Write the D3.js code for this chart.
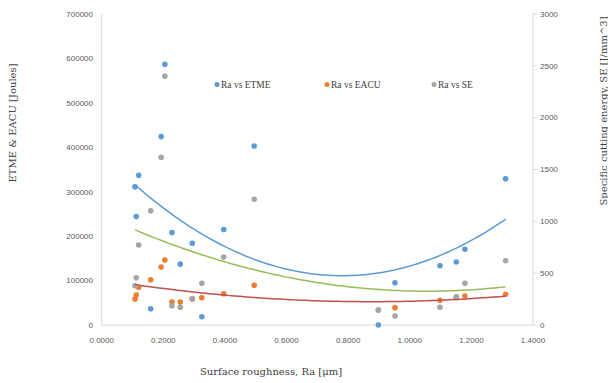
<!DOCTYPE html>
<html>
<head>
<meta charset="utf-8">
<script src="https://cdn.jsdelivr.net/npm/d3@7"></script>
<style>
  html, body { margin: 0; padding: 0; background: #fff; }
  svg { display: block; }
  .tick-label { font-family: "Liberation Sans", Arial, sans-serif; font-size: 8px; fill: #595959; }
  .title { font-family: "DejaVu Serif", "Liberation Serif", serif; font-size: 10px; fill: #404040; }
  .legend { font-family: "Liberation Serif", serif; font-size: 9.5px; fill: #404040; }
</style>
</head>
<body>
<svg id="chart" width="608" height="383"></svg>
<script>
// Surface roughness Ra [µm] for each test
const ra = [0.108, 0.112, 0.120, 0.159, 0.193, 0.205, 0.228, 0.255, 0.294,
            0.325, 0.396, 0.495, 0.898, 0.952, 1.098, 1.151, 1.179, 1.311];
// Total machining energy [J]
const etme = [311000, 244000, 337000, 36700, 424000, 587000, 208000, 137000, 184000,
              18700, 215000, 403000, 0, 95200, 133500, 141800, 170400, 329300];
// Energy for actual cutting [J]
const eacu = [58500, 67500, 84900, 102000, 130600, 146300, 51800, 51800, 58500,
              61500, 70500, 89300, 33800, 39000, 55600, 62000, 65300, 69100];
// Specific cutting energy [J/mm^3]
const se = [379, 456, 772, 1102, 1618, 2399, 186, 171, 254,
            402, 656, 1212, 145, 87, 171, 273, 402, 620];

const xTicks = [0, 0.2, 0.4, 0.6, 0.8, 1.0, 1.2, 1.4];
const leftTicks = [0, 100000, 200000, 300000, 400000, 500000, 600000, 700000];
const rightTicks = [0, 500, 1000, 1500, 2000, 2500, 3000];
const seriesNames = ["Ra vs ETME", "Ra vs EACU", "Ra vs SE"];

const colors = { etme: "#5b9bd5", eacu: "#ed7d31", se: "#a5a5a5" };
const trendColors = { etme: "#5b9bd5", eacu: "#c0504d", se: "#9bbb59" };

const svg = d3.select("#chart");
const plot = { left: 101.7, right: 533, top: 14, bottom: 325 };

const x = d3.scaleLinear().domain([0, 1.4]).range([plot.left, plot.right]);
const yL = d3.scaleLinear().domain([0, 700000]).range([plot.bottom, plot.top]);
const yR = d3.scaleLinear().domain([0, 3000]).range([plot.bottom, plot.top]);

// Axis lines
const axisColor = "#d9d9d9";
svg.append("line").attr("x1", plot.left).attr("x2", plot.left)
  .attr("y1", plot.top).attr("y2", plot.bottom).attr("stroke", axisColor);
svg.append("line").attr("x1", plot.right).attr("x2", plot.right)
  .attr("y1", plot.top).attr("y2", plot.bottom).attr("stroke", axisColor);
svg.append("line").attr("x1", plot.left).attr("x2", plot.right)
  .attr("y1", plot.bottom).attr("y2", plot.bottom).attr("stroke", axisColor);

// Left axis labels
svg.append("g").selectAll("text").data(leftTicks).join("text")
  .attr("class", "tick-label").attr("x", 93).attr("y", d => yL(d)).attr("dy", "0.35em")
  .attr("text-anchor", "end").text(d => d3.format("d")(d));

// Right axis ticks and labels
svg.append("g").selectAll("line").data(rightTicks).join("line")
  .attr("x1", plot.right).attr("x2", plot.right + 4)
  .attr("y1", d => yR(d)).attr("y2", d => yR(d)).attr("stroke", axisColor);
svg.append("g").selectAll("text").data(rightTicks).join("text")
  .attr("class", "tick-label").attr("x", 540).attr("y", d => yR(d)).attr("dy", "0.35em")
  .attr("text-anchor", "start").text(d => d);

// Bottom axis labels
svg.append("g").selectAll("text").data(xTicks).join("text")
  .attr("class", "tick-label").attr("x", d => x(d)).attr("y", 340).attr("dy", "0.35em")
  .attr("text-anchor", "middle").text(d => d3.format(".4f")(d));

// Axis titles
svg.append("text").attr("class", "title")
  .attr("transform", "translate(16,123) rotate(-90)")
  .attr("text-anchor", "middle").text("ETME & EACU [Joules]");
svg.append("text").attr("class", "title")
  .attr("transform", "translate(607,111) rotate(-90)")
  .attr("text-anchor", "middle").text("Specific cutting energy, SE [J/mm^3]");
svg.append("text").attr("class", "title")
  .attr("x", 271).attr("y", 375).attr("text-anchor", "middle")
  .text("Surface roughness, Ra [μm]");

// Least-squares second-order polynomial fit
function quadFit(xs, ys) {
  const n = xs.length;
  let s = [0, 0, 0, 0, 0], t = [0, 0, 0];
  for (let i = 0; i < n; i++) {
    const xi = xs[i], yi = ys[i];
    for (let k = 0; k < 5; k++) s[k] += Math.pow(xi, k);
    for (let k = 0; k < 3; k++) t[k] += yi * Math.pow(xi, k);
  }
  const A = [[s[0], s[1], s[2], t[0]], [s[1], s[2], s[3], t[1]], [s[2], s[3], s[4], t[2]]];
  for (let i = 0; i < 3; i++) {
    for (let j = i + 1; j < 3; j++) {
      const f = A[j][i] / A[i][i];
      for (let k = i; k < 4; k++) A[j][k] -= f * A[i][k];
    }
  }
  const c = [0, 0, 0];
  for (let i = 2; i >= 0; i--) {
    let v = A[i][3];
    for (let k = i + 1; k < 3; k++) v -= A[i][k] * c[k];
    c[i] = v / A[i][i];
  }
  return xv => c[0] + c[1] * xv + c[2] * xv * xv;
}

const series = [
  { key: "etme", values: etme, y: yL },
  { key: "eacu", values: eacu, y: yL },
  { key: "se", values: se, y: yR }
];

// Points
series.forEach(s => {
  svg.append("g").selectAll("circle").data(ra.map((r, i) => [r, s.values[i]])).join("circle")
    .attr("cx", d => x(d[0])).attr("cy", d => s.y(d[1])).attr("r", 2.8)
    .attr("fill", colors[s.key]);
});

// Trend lines
const line = d3.line().curve(d3.curveLinear);
const xMin = d3.min(ra), xMax = d3.max(ra);
const samples = d3.range(0, 101).map(i => xMin + (xMax - xMin) * i / 100);
[series[0], series[2], series[1]].forEach(s => {
  const f = quadFit(ra, s.values);
  svg.append("path")
    .attr("d", line(samples.map(v => [x(v), s.y(f(v))])))
    .attr("fill", "none").attr("stroke", trendColors[s.key]).attr("stroke-width", 1.5);
});

// Legend
const legendItems = [
  { name: seriesNames[0], key: "etme", x: 217 },
  { name: seriesNames[1], key: "eacu", x: 327 },
  { name: seriesNames[2], key: "se", x: 434 }
];
const lg = svg.append("g").selectAll("g").data(legendItems).join("g");
lg.append("circle").attr("cx", d => d.x).attr("cy", 84.5).attr("r", 2.5).attr("fill", d => colors[d.key]);
lg.append("text").attr("class", "legend").attr("x", d => d.x + 4).attr("y", 84.5).attr("dy", "0.35em")
  .text(d => d.name);
</script>
</body>
</html>
